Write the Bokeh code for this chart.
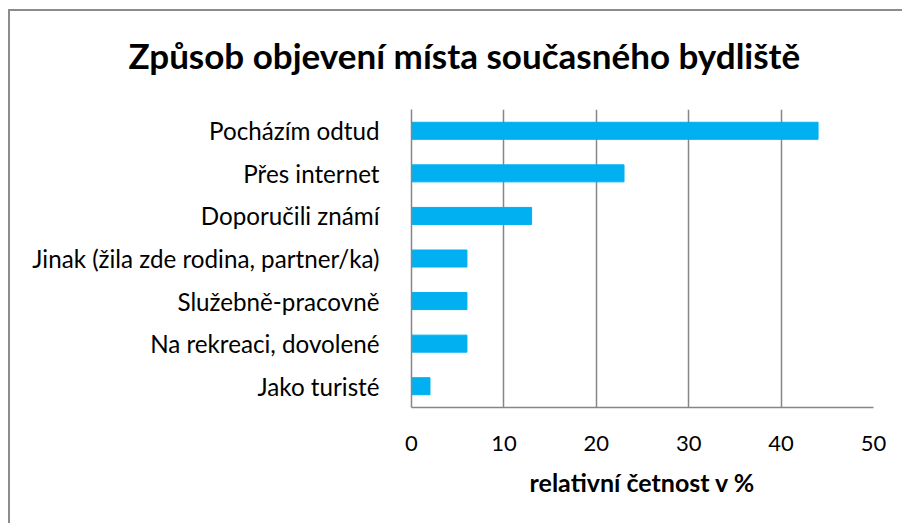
from bokeh.plotting import figure
from bokeh.models import Title, FixedTicker, Range1d
from bokeh.embed import file_html
from bokeh.resources import INLINE

categories = ["Pocházím odtud", "Přes internet", "Doporučili známí",
              "Jinak (žila zde rodina, partner/ka)", "Služebně-pracovně",
              "Na rekreaci, dovolené", "Jako turisté"]
values = [44, 23, 13, 6, 6, 6, 2]
x_ticks = [0, 10, 20, 30, 40, 50]
title_text = "Způsob objevení místa současného bydliště"
x_label = "relativní četnost v %"

n = len(categories)
ypos = [n - 0.5 - i for i in range(n)]

FONT = "Lato"
# border drawn via CSS: figure canvas begins at x=10, y=11
OX, OY = 10, 11
p = figure(width=904 - OX, height=525 - OY, output_backend="svg", toolbar_location=None,
           x_range=Range1d(0, 50), y_range=Range1d(0, n),
           min_border_left=411 - OX, min_border_right=31,
           min_border_top=109 - OY, min_border_bottom=118)
p.styles = {"margin-left": "8px", "margin-top": "9px",
            "border-left": "2px solid #8c8c8c", "border-top": "2px solid #8c8c8c"}
p.outline_line_color = None
p.background_fill_color = "white"
p.border_fill_color = "white"

p.hbar(y=ypos, right=values, left=0, height=0.4, color="#00B0F0")

p.xaxis.ticker = FixedTicker(ticks=x_ticks)
p.yaxis.ticker = FixedTicker(ticks=ypos)
p.yaxis.major_label_overrides = {y: c for y, c in zip(ypos, categories)}
for ax in (p.xaxis, p.yaxis):
    ax.major_tick_line_color = None
    ax.minor_tick_line_color = None
    ax.axis_line_color = "#868686"
    ax.axis_line_width = 1.5
    ax.major_label_text_font = FONT
    ax.major_label_text_color = "black"
p.yaxis.major_label_text_font_size = "24.2px"
p.xaxis.major_label_text_font_size = "22px"
p.yaxis.major_label_standoff = 26
p.xaxis.major_label_standoff = 22
p.xaxis.axis_label = x_label
p.xaxis.axis_label_text_font = FONT
p.xaxis.axis_label_text_font_style = "bold"
p.xaxis.axis_label_text_font_size = "25px"
p.xaxis.axis_label_text_color = "black"
p.xaxis.axis_label_standoff = 13

p.ygrid.grid_line_color = None
p.xgrid.grid_line_color = "#868686"
p.xgrid.grid_line_width = 1.5
p.xgrid.ticker = FixedTicker(ticks=x_ticks)

# real title (outermost) with a spacer title between it and the frame
p.title.text = title_text
p.title.text_font = FONT
p.title.text_font_style = "bold"
p.title.text_font_size = "35px"
p.title.text_color = "black"
p.title.align = "left"
p.title.offset = -283
p.add_layout(Title(text=" ", text_font_size="16px"), "above")

open("out.html", "w").write(file_html(p, INLINE))
